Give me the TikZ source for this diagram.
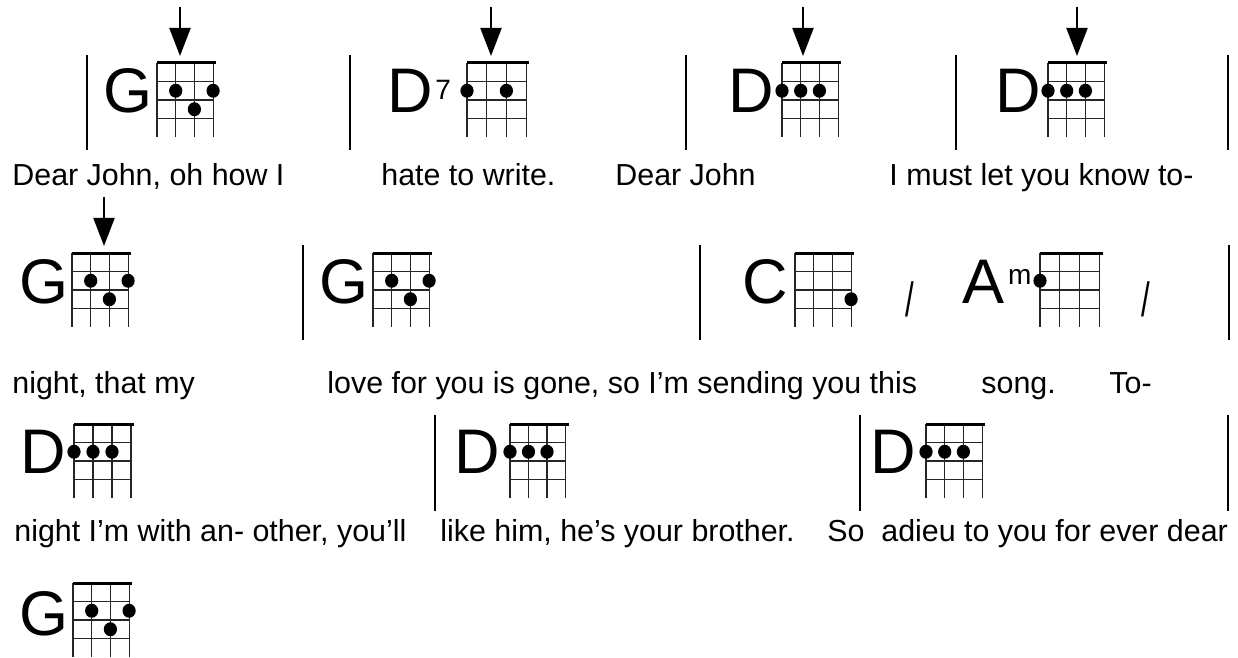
\documentclass[tikz,border=0pt]{standalone}
\usepackage{fontspec}
\setmainfont{Liberation Sans}
\usepackage{graphicx}
\usetikzlibrary{arrows.meta, positioning}

% diagrama: x, y, separacion de cuerdas, puntos cuerda/traste
\newcommand{\ukebox}[4]{%
  \begin{scope}[shift={(#1,#2)}]
    \foreach \cu in {0,1,2,3}
      \draw[fretline] (\cu*#3,0) -- (\cu*#3,74);
    \foreach \tr in {1,2,3}
      \draw[fretline] (0,\tr*18.5) -- (3*#3,\tr*18.5);
    \draw[nutline] (0,0) -- (3*#3+3,0);
    \foreach \cu/\tr in {#4}
      \fill ({(\cu-1)*#3},{(\tr-0.5)*18.5}) ellipse [x radius=3.3pt, y radius=3.5pt];
  \end{scope}}

\begin{document}
\begin{tikzpicture}[
    x=0.5pt, y=-0.5pt,
    chordname/.style={font=\fontsize{31.5}{34}\selectfont, anchor=base west, inner sep=0pt},
    supname/.style={font=\fontsize{14}{16}\selectfont, inner sep=0pt},
    lyric/.style={font=\fontsize{15.2}{17}\selectfont, anchor=base west, inner sep=0pt},
    beat/.style={font=\fontsize{24}{26}\selectfont, anchor=base, inner sep=0pt},
    fretline/.style={line width=0.55pt, black!85},
    nutline/.style={line width=1.5pt},
    barline/.style={line width=1.2pt},
    strum/.style={line width=1pt, -{Triangle[length=14pt, width=10.5pt]}}
  ]
  \useasboundingbox (0,0) rectangle (1238,658);

  % Fila 1
  \foreach \xb in {87,350,686,956,1228}
    \draw[barline] (\xb,55) -- (\xb,150);

  \coordinate (s1) at (180,7);  \coordinate (s1tip) at (180,56);
  \coordinate (s2) at (491,7);  \coordinate (s2tip) at (491,56);
  \coordinate (s3) at (803,7);  \coordinate (s3tip) at (803,56);
  \coordinate (s4) at (1077,7); \coordinate (s4tip) at (1077,56);
  \draw[strum] (s1) -- (s1tip);
  \draw[strum] (s2) -- (s2tip);
  \draw[strum] (s3) -- (s3tip);
  \draw[strum] (s4) -- (s4tip);

  \node[chordname] (g1) at (103,113) {G};
  \ukebox{157}{63}{18.7}{2/2,3/3,4/2}
  \node[chordname] (d7) at (387,113) {D};
  \node[supname, base right=0.8pt of d7, yshift=6.5pt] (sev) {7};
  \ukebox{467}{63}{19.7}{1/2,3/2}
  \node[chordname] (d1) at (728,113) {D};
  \ukebox{782}{63}{18.7}{1/2,2/2,3/2}
  \node[chordname] (d2) at (995,113) {D};
  \ukebox{1048}{63}{18.7}{1/2,2/2,3/2}

  \node[lyric] (ly1) at (12,185) {Dear John, oh how I};
  \node[lyric] (ly2) at (381,185) {hate to write.};
  \node[lyric] (ly3) at (615,185) {Dear John};
  \node[lyric] (ly4) at (889,185) {I must let you know to-};

  % Fila 2
  \foreach \xb in {303,700,1229}
    \draw[barline] (\xb,245) -- (\xb,340);

  \coordinate (s5) at (104,197); \coordinate (s5tip) at (104,246);
  \draw[strum] (s5) -- (s5tip);

  \node[chordname] (g2) at (19,303) {G};
  \ukebox{72}{253}{18.7}{2/2,3/3,4/2}
  \node[chordname] (g3) at (319,303) {G};
  \ukebox{373}{253}{18.7}{2/2,3/3,4/2}
  \node[chordname] (c1) at (742,303) {C};
  \ukebox{795}{253}{18.7}{4/3}
  \node[beat] (sl1) at (910,316) {\scalebox{0.65}[1]{/}};
  \node[chordname] (a1) at (962,303) {A};
  \node[supname, base right=1.5pt of a1, yshift=9pt] (min) {m};
  \ukebox{1040}{253}{19.9}{1/2}
  \node[beat] (sl2) at (1146,316) {\scalebox{0.65}[1]{/}};

  \node[lyric] (ly5) at (12,393) {night, that my};
  \node[lyric] (ly6) at (327,393) {love for you is gone, so I’m sending you this};
  \node[lyric] (ly7) at (981,393) {song.};
  \node[lyric] (ly8) at (1109,393) {To-};

  % Fila 3
  \foreach \xb in {435,860,1228}
    \draw[barline] (\xb,415) -- (\xb,511);

  \node[chordname] (d3) at (20,473) {D};
  \ukebox{74}{424}{19}{1/2,2/2,3/2}
  \node[chordname] (d4) at (454,473) {D};
  \ukebox{510}{424}{18.5}{1/2,2/2,3/2}
  \node[chordname] (d5) at (870,473) {D};
  \ukebox{926}{424}{18.7}{1/2,2/2,3/2}

  \node[lyric] (ly9) at (14,541) {night I’m with an- other, you’ll};
  \node[lyric] (ly10) at (440,541) {like him, he’s your brother.};
  \node[lyric] (ly11) at (827,541) {So};
  \node[lyric] (ly12) at (881,541) {adieu to you for ever dear};

  % Fila 4
  \node[chordname] (g4) at (19,635) {G};
  \ukebox{73}{583}{18.7}{2/2,3/3,4/2}

\end{tikzpicture}
\end{document}
